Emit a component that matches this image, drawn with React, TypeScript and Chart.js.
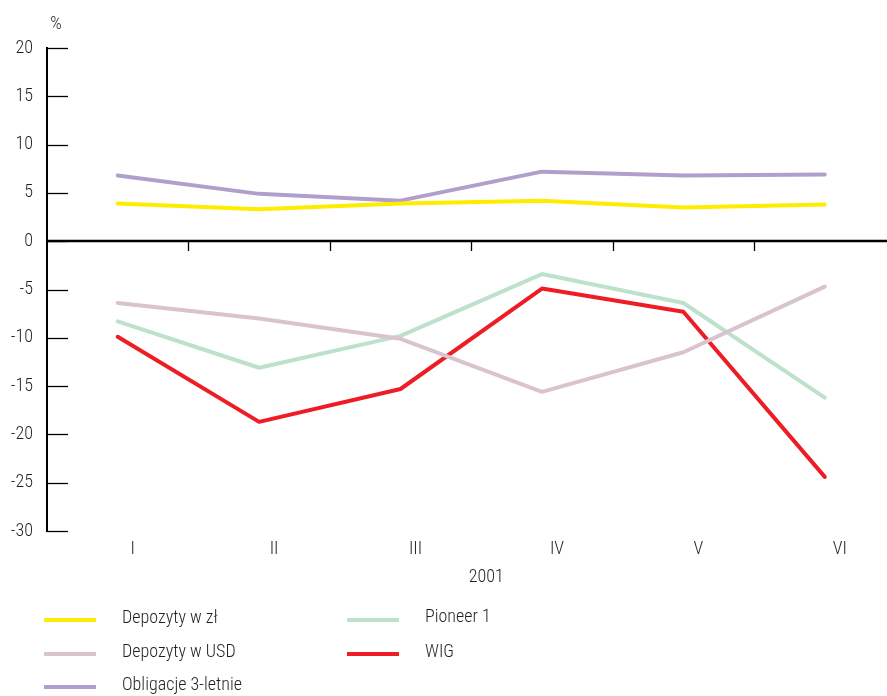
import { useEffect, useRef } from 'react';
import { Chart, registerables } from 'chart.js';

Chart.register(...registerables);

// ---- data ----
const categories = ['I', 'II', 'III', 'IV', 'V', 'VI'];
const periodLabel = '2001';
const unitLabel = '%';
const seriesNames = ['Depozyty w zł', 'Depozyty w USD', 'Obligacje 3-letnie', 'Pioneer 1', 'WIG'];
const depozytyZl = [3.9, 3.3, 3.9, 4.2, 3.5, 3.8];
const depozytyUsd = [-6.4, -8.0, -10.1, -15.6, -11.5, -4.7];
const obligacje = [6.8, 4.9, 4.2, 7.2, 6.8, 6.9];
const pioneer = [-8.3, -13.1, -9.8, -3.4, -6.4, -16.2];
const wig = [-9.9, -18.7, -15.3, -4.9, -7.3, -24.4];
const yMin = -30;
const yMax = 20;
const yStep = 5;

// ---- styles ----
const seriesColors = ['#FFED00', '#D9C3CF', '#B09FCC', '#BDE1CB', '#EE1D25'];
const FONT = '"Roboto Condensed", "DejaVu Sans Condensed", sans-serif';
const FONT_SIZE = 18;
const FONT_WEIGHT = '300';
const TEXT = '#231F20';
const LABEL_OFFSET = 15;

const decorPlugin = {
  id: 'decor',
  afterDraw(chart: any) {
    const { ctx, chartArea, scales } = chart;
    const x = scales.x;
    const y = scales.y;
    ctx.save();
    ctx.strokeStyle = '#000';
    // inward y ticks
    ctx.lineWidth = 1.3;
    y.ticks.forEach((t: any) => {
      const py = Math.round(y.getPixelForValue(t.value)) + 0.5;
      ctx.beginPath();
      ctx.moveTo(chartArea.left, py);
      ctx.lineTo(chartArea.left + 21, py);
      ctx.stroke();
    });
    // zero line
    const y0 = Math.round(y.getPixelForValue(0));
    ctx.lineWidth = 2.5;
    ctx.beginPath();
    ctx.moveTo(chartArea.left, y0);
    ctx.lineTo(chart.width, y0);
    ctx.stroke();
    // category boundary ticks
    ctx.lineWidth = 1.3;
    for (let i = 0; i < categories.length - 1; i++) {
      const px = Math.round(x.getPixelForValue(i + 0.5)) + 0.5;
      ctx.beginPath();
      ctx.moveTo(px, y0);
      ctx.lineTo(px, y0 + 10);
      ctx.stroke();
    }
    // unit and period labels
    ctx.fillStyle = TEXT;
    ctx.font = `${FONT_WEIGHT} ${FONT_SIZE}px ${FONT}`;
    ctx.textAlign = 'center';
    ctx.textBaseline = 'middle';
    ctx.fillText(unitLabel, chartArea.left + 9, chartArea.top - 24);
    ctx.fillText(
      periodLabel,
      x.getPixelForValue((categories.length - 1) / 2) + LABEL_OFFSET,
      chartArea.bottom + 46
    );
    // legend
    const cols = [44, 347];
    const rows = [620, 654, 687];
    chart.data.datasets.forEach((ds: any, i: number) => {
      const col = i < 3 ? 0 : 1;
      const row = i < 3 ? i : i - 3;
      const lx = cols[col];
      const ly = rows[row];
      ctx.strokeStyle = ds.borderColor;
      ctx.lineWidth = 4;
      ctx.beginPath();
      ctx.moveTo(lx, ly);
      ctx.lineTo(lx + 52, ly);
      ctx.stroke();
      ctx.fillStyle = TEXT;
      ctx.textAlign = 'left';
      ctx.fillText(ds.label, lx + 78, ly - (col === 1 && row === 0 ? 3 : 2));
    });
    ctx.restore();
  },
};

export default function App() {
  const ref = useRef<HTMLCanvasElement | null>(null);
  useEffect(() => {
    if (!ref.current) return;
    const values = [depozytyZl, depozytyUsd, obligacje, pioneer, wig];
    const tickFont = { family: FONT, size: FONT_SIZE, weight: FONT_WEIGHT as any };
    const chart = new Chart(ref.current, {
      type: 'line',
      data: {
        datasets: values.map((arr, i) => ({
          label: seriesNames[i],
          data: arr.map((v, k) => ({ x: k, y: v })),
          borderColor: seriesColors[i],
          backgroundColor: seriesColors[i],
          borderWidth: 4,
          pointRadius: 0,
          tension: 0,
          borderCapStyle: 'round' as const,
          borderJoinStyle: 'round' as const,
        })),
      },
      options: {
        animation: false,
        responsive: false,
        maintainAspectRatio: false,
        layout: { padding: { left: 0, right: 0, top: 48, bottom: 125 } },
        plugins: {
          legend: { display: false },
          tooltip: { enabled: false },
        },
        scales: {
          x: {
            type: 'linear',
            min: -0.5,
            max: 5.44,
            grid: { display: false, drawTicks: false },
            border: { display: false },
            afterBuildTicks: (scale: any) => {
              scale.ticks = categories.map((_, i) => ({ value: i }));
            },
            afterFit: (scale: any) => {
              scale.height = 40;
            },
            ticks: {
              autoSkip: false,
              maxRotation: 0,
              padding: 8,
              labelOffset: LABEL_OFFSET,
              color: TEXT,
              font: tickFont,
              callback: (v: any) => categories[Math.round(Number(v))] ?? '',
            },
          },
          y: {
            min: yMin,
            max: yMax,
            grid: { display: false, drawTicks: false },
            border: { display: true, color: '#000', width: 2 },
            afterFit: (scale: any) => {
              scale.width = 47;
            },
            ticks: {
              stepSize: yStep,
              padding: 14,
              color: TEXT,
              font: tickFont,
            },
          },
        },
      },
      plugins: [decorPlugin],
    });
    return () => chart.destroy();
  }, []);
  return (
    <div style={{ position: 'absolute', left: 0, top: 0, width: 887, height: 696, background: '#fff' }}>
      <canvas ref={ref} width={887} height={696} style={{ width: 887, height: 696 }} />
    </div>
  );
}
